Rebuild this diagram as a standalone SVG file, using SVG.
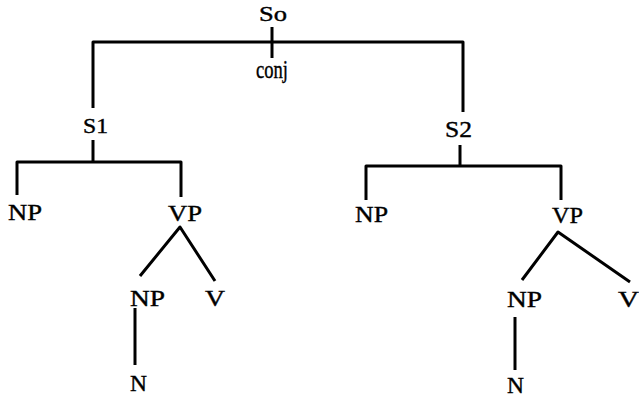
<svg xmlns="http://www.w3.org/2000/svg" width="639" height="399" viewBox="0 0 639 399">
<style>
text{font-family:"Liberation Serif","Times New Roman",serif;font-size:24px;fill:#000;stroke:#000;stroke-width:0.4}
.s{font-size:22px}
.c{font-size:25px}
.e{fill:none;stroke:#000;stroke-width:3;stroke-linejoin:round;stroke-linecap:butt}
</style>
<rect width="639" height="399" fill="#fff"/>
<g id="connectors">
<path class="e" d="M93,108 V42 H463 V112"/>
<path class="e" d="M272,27 V58"/>
<path class="e" d="M93,140 V162"/>
<path class="e" d="M17,195 V162 H181 V197"/>
<path class="e" d="M460,145 V166"/>
<path class="e" d="M366,200 V166 H561 V200"/>
<path class="e" d="M140,276 L180,227 L215,281"/>
<path class="e" d="M135,308 V365"/>
<path class="e" d="M522,280 L558,232 L630,282"/>
<path class="e" d="M515,317 V370"/>
</g>
<g id="So"><text class="s" x="259" y="21" textLength="28" lengthAdjust="spacingAndGlyphs">So</text></g>
<g id="conj"><text class="c" x="256" y="78" textLength="32" lengthAdjust="spacingAndGlyphs">conj</text></g>
<g id="S1"><text class="s" x="83" y="133" textLength="25" lengthAdjust="spacingAndGlyphs">S1</text></g>
<g id="S2"><text x="445" y="137" textLength="27" lengthAdjust="spacingAndGlyphs">S2</text></g>
<g id="NP1"><text x="8" y="220" textLength="34" lengthAdjust="spacingAndGlyphs">NP</text></g>
<g id="VP1"><text x="168" y="221" textLength="34" lengthAdjust="spacingAndGlyphs">VP</text></g>
<g id="NP1b"><text x="130" y="306" textLength="35" lengthAdjust="spacingAndGlyphs">NP</text></g>
<g id="V1"><text x="205" y="306" textLength="20" lengthAdjust="spacingAndGlyphs">V</text></g>
<g id="N1"><text x="130" y="391" textLength="17" lengthAdjust="spacingAndGlyphs">N</text></g>
<g id="NP2"><text x="355" y="222" textLength="33" lengthAdjust="spacingAndGlyphs">NP</text></g>
<g id="VP2"><text x="552" y="223" textLength="31" lengthAdjust="spacingAndGlyphs">VP</text></g>
<g id="NP2b"><text x="507" y="307" textLength="35" lengthAdjust="spacingAndGlyphs">NP</text></g>
<g id="V2"><text x="618" y="307" textLength="21" lengthAdjust="spacingAndGlyphs">V</text></g>
<g id="N2"><text x="507" y="393" textLength="17" lengthAdjust="spacingAndGlyphs">N</text></g>
</svg>
